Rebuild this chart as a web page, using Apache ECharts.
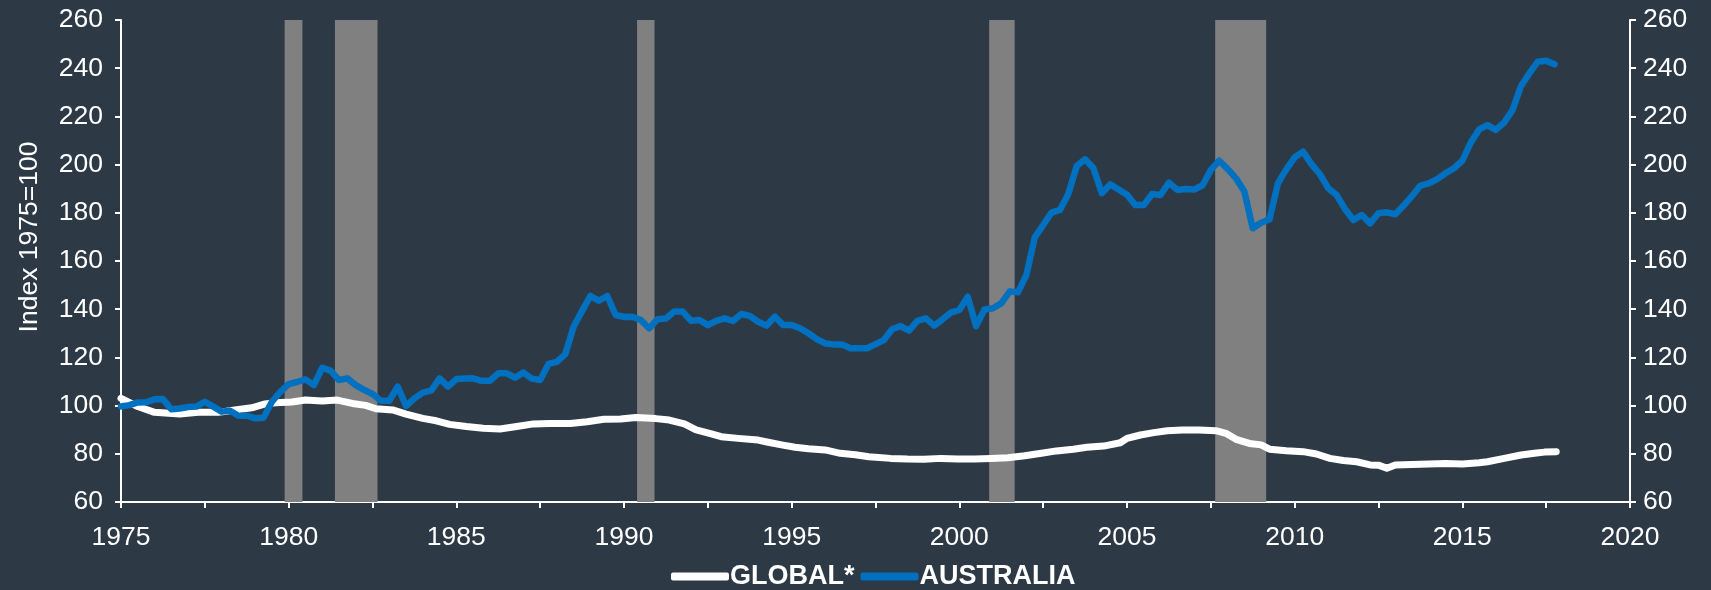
<!DOCTYPE html>
<html>
<head>
<meta charset="utf-8">
<script src="https://cdn.jsdelivr.net/npm/echarts@6/dist/echarts.min.js"></script>
<style>
html,body{margin:0;padding:0;background:#2D3A46;}
#chart{width:1711px;height:590px;}
</style>
</head>
<body>
<div id="chart"></div>
<script>
// Axis ticks
const yTicks = [60, 80, 100, 120, 140, 160, 180, 200, 220, 240, 260];
const xTickYears = [1975, 1980, 1985, 1990, 1995, 2000, 2005, 2010, 2015, 2020];

// Recession bands (start year, end year)
const recessionStart = [1979.88, 1981.38, 1990.39, 2000.89, 2007.63];
const recessionEnd   = [1980.41, 1982.65, 1990.91, 2001.65, 2009.15];

// AUSTRALIA: quarterly, first quarter 1975
const australiaStart = 1975;
const australia = [
  99.6, 100.2, 101.3, 101.4, 102.6, 102.7, 98.5, 98.8,
  99.4, 99.6, 101.6, 99.6, 97.5, 97.9, 95.8, 95.8,
  94.7, 95.0, 101.6, 105.7, 108.9, 109.8, 110.9, 108.5,
  115.7, 114.5, 110.6, 111.3, 108.5, 106.5, 104.8, 102.0,
  102.0, 107.9, 99.8, 103.0, 105.4, 106.2, 111.3, 107.9,
  111.0, 111.2, 111.3, 110.3, 110.3, 113.4, 113.4, 111.6,
  113.7, 111.2, 110.6, 117.3, 118.2, 121.4, 132.8, 139.3,
  145.5, 143.5, 145.5, 137.6, 136.8, 136.9, 135.5, 132.1,
  135.8, 136.1, 139.0, 139.0, 135.2, 135.5, 133.4, 135.2,
  136.2, 135.1, 138.0, 137.2, 134.8, 133.2, 136.9, 133.4,
  133.4, 132.1, 130.0, 127.6, 125.8, 125.4, 125.4, 123.8,
  123.8, 123.8, 125.5, 127.2, 131.8, 133.0, 131.1, 135.2,
  136.2, 133.2, 135.8, 138.6, 139.7, 145.2, 133.0, 139.9,
  140.4, 142.4, 147.3, 147.0, 154.2, 169.8, 174.9, 180.1,
  181.2, 187.8, 199.4, 202.2, 198.5, 188.1, 191.8, 189.7,
  187.5, 183.2, 183.2, 187.8, 187.4, 192.5, 189.5, 189.9,
  189.7, 191.3, 197.8, 201.6, 198.2, 194.3, 188.8, 173.6,
  175.9, 177.3, 192.2, 198.0, 203.0, 205.4, 200.2, 196.1,
  190.2, 187.4, 181.6, 177.0, 179.1, 175.6, 179.8, 180.2,
  179.4, 183.0, 187.0, 191.3, 192.2, 194.0, 196.4, 198.5,
  201.6, 209.1, 214.6, 216.4, 214.4, 217.5, 222.7, 232.6,
  237.9, 242.7, 243.1, 241.6
];

// GLOBAL*: readings (year, value)
const globalYears = [
  1975.0, 1975.5, 1976.0, 1976.75, 1977.3, 1977.9, 1978.4, 1978.9, 1979.3, 1979.6,
  1980.1, 1980.5, 1981.0, 1981.45, 1981.9, 1982.3, 1982.6, 1983.1, 1983.5, 1984.0,
  1984.4, 1984.8, 1985.3, 1985.8, 1986.3, 1986.8, 1987.3, 1987.8, 1988.4, 1988.9,
  1989.4, 1989.9, 1990.35, 1990.95, 1991.35, 1991.8, 1992.15, 1992.55, 1992.9, 1993.4,
  1994.0, 1994.3, 1994.7, 1995.1, 1995.5, 1996.0, 1996.45, 1996.9, 1997.3, 1997.95,
  1998.45, 1998.95, 1999.45, 1999.95, 2000.45, 2000.95, 2001.45, 2001.95, 2002.45, 2002.9,
  2003.4, 2003.8, 2004.3, 2004.8, 2005.0, 2005.4, 2005.8, 2006.2, 2006.65, 2007.15,
  2007.65, 2007.95, 2008.25, 2008.65, 2009.0, 2009.25, 2009.75, 2010.25, 2010.65, 2011.05,
  2011.45, 2011.85, 2012.25, 2012.5, 2012.75, 2013.0, 2013.5, 2014.0, 2014.5, 2015.0,
  2015.5, 2015.75, 2016.25, 2016.75, 2017.15, 2017.45, 2017.8
];
const globalValues = [
  103.0, 99.6, 97.2, 96.5, 97.2, 97.2, 98.2, 99.1, 100.7, 101.2,
  101.5, 102.3, 101.9, 102.3, 100.9, 100.1, 98.7, 98.2, 96.5, 94.7,
  93.7, 92.2, 91.3, 90.6, 90.3, 91.3, 92.4, 92.6, 92.6, 93.3,
  94.3, 94.4, 95.1, 94.6, 94.0, 92.4, 89.9, 88.5, 87.1, 86.4,
  85.7, 84.8, 83.7, 82.7, 82.1, 81.6, 80.2, 79.6, 78.8, 78.1,
  77.8, 77.7, 78.1, 77.8, 77.8, 78.1, 78.4, 79.2, 80.2, 81.2,
  81.9, 82.7, 83.2, 84.6, 86.4, 87.8, 88.8, 89.6, 89.9, 89.9,
  89.6, 88.5, 86.0, 84.3, 83.7, 81.9, 81.3, 80.9, 79.9, 78.1,
  77.2, 76.7, 75.4, 75.3, 74.0, 75.4, 75.6, 75.8, 76.0, 75.8,
  76.3, 76.7, 78.1, 79.5, 80.2, 80.7, 80.9
];

const FONT = '"Liberation Sans", Arial, sans-serif';
const yMin = yTicks[0], yMax = yTicks[yTicks.length - 1];
const yStep = yTicks[1] - yTicks[0];
const xMin = xTickYears[0], xMax = xTickYears[xTickYears.length - 1];

const australiaData = australia.map((v, i) => [australiaStart + i / 4, v]);
const globalData = globalValues.map((v, i) => [globalYears[i], v]);
const recessionData = recessionStart.map((s, i) => [s, recessionEnd[i]]);

const chart = echarts.init(document.getElementById('chart'), null, {renderer: 'canvas'});

function yAxisDef(pos, margin) {
  return {
    type: 'value', min: yMin, max: yMax, interval: yStep, position: pos,
    splitLine: {show: false},
    axisLine: {show: true, lineStyle: {color: '#FFFFFF', width: 2}},
    axisTick: {show: true, length: 6, lineStyle: {color: '#FFFFFF', width: 2}},
    axisLabel: {color: '#FFFFFF', fontSize: 26.5, fontFamily: FONT, margin: margin}
  };
}

chart.setOption({
  backgroundColor: '#2D3A46',
  animation: false,
  grid: {left: 121, right: 81, top: 20, bottom: 88, containLabel: false},
  legend: {
    data: [
      {name: 'GLOBAL*', icon: 'roundRect'},
      {name: 'AUSTRALIA', icon: 'roundRect'}
    ],
    top: 558,
    left: 666,
    itemWidth: 58,
    itemHeight: 8,
    itemGap: 6,
    textStyle: {color: '#FFFFFF', fontSize: 27, fontWeight: 'bold', fontFamily: FONT, padding: [0, 0, 0, -4]}
  },
  xAxis: {
    type: 'value', min: xMin, max: xMax, interval: 2.5,
    splitLine: {show: false},
    axisLine: {show: true, onZero: false, lineStyle: {color: '#FFFFFF', width: 2}},
    axisTick: {show: true, length: 6, lineStyle: {color: '#FFFFFF', width: 2}},
    axisLabel: {
      color: '#FFFFFF', fontSize: 26.5, fontFamily: FONT, margin: 22,
      formatter: v => (xTickYears.indexOf(v) >= 0 ? String(v) : '')
    }
  },
  yAxis: [yAxisDef('left', 18), yAxisDef('right', 13)],
  graphic: [{
    type: 'text',
    x: 30, y: 237,
    rotation: Math.PI / 2,
    style: {
      text: 'Index 1975=100', fill: '#FFFFFF', fontSize: 26.5, fontFamily: FONT,
      align: 'center', verticalAlign: 'middle'
    }
  }],
  series: [
    {
      name: 'recessions',
      type: 'custom',
      z: 1,
      silent: true,
      clip: true,
      data: recessionData,
      encode: {x: [0, 1]},
      renderItem: function (params, api) {
        const p0 = api.coord([api.value(0), yMax]);
        const p1 = api.coord([api.value(1), yMin]);
        return {
          type: 'rect',
          shape: {x: p0[0], y: p0[1], width: p1[0] - p0[0], height: p1[1] - p0[1]},
          style: {fill: '#808080'}
        };
      }
    },
    {
      name: 'GLOBAL*',
      type: 'line',
      z: 3,
      data: globalData,
      symbol: 'none',
      color: '#FFFFFF',
      lineStyle: {color: '#FFFFFF', width: 7, cap: 'round', join: 'round'}
    },
    {
      name: 'AUSTRALIA',
      type: 'line',
      z: 4,
      data: australiaData,
      symbol: 'none',
      color: '#0070C0',
      lineStyle: {color: '#0070C0', width: 6.5, cap: 'round', join: 'round'}
    }
  ]
});
</script>
</body>
</html>
